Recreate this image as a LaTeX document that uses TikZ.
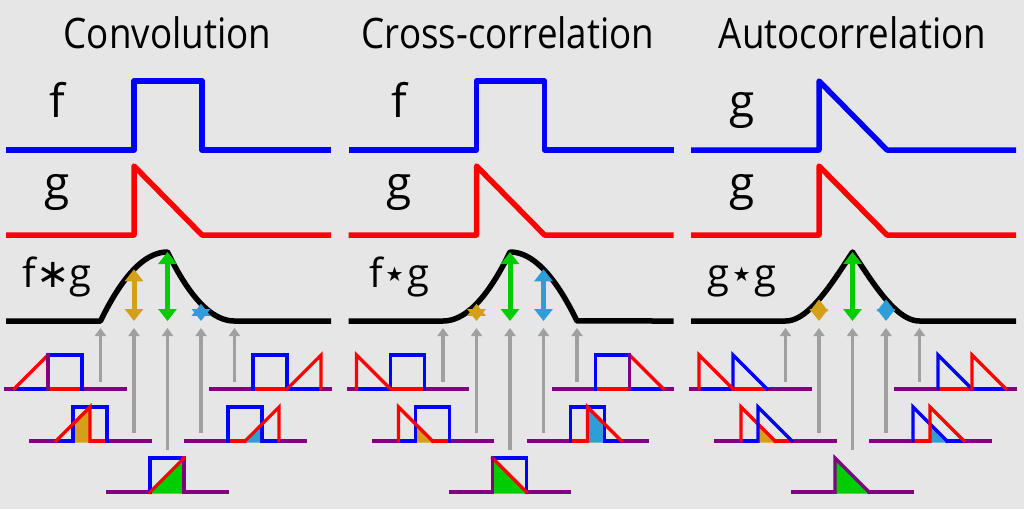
\documentclass[tikz,border=0pt]{standalone}
\usepackage{fontspec}
\setmainfont{Open Sans}
\newfontfamily\titlef[FakeStretch=0.875]{Open Sans}
\newfontfamily\symf{DejaVu Sans}
\usetikzlibrary{arrows.meta}
\definecolor{bg}{HTML}{E6E6E6}
\definecolor{fblue}{HTML}{0000FF}
\definecolor{gred}{HTML}{FF0000}
\definecolor{pur}{HTML}{800080}
\definecolor{orng}{HTML}{D4A017}
\definecolor{grn}{HTML}{00CC00}
\definecolor{cyn}{HTML}{2E9ED8}
\definecolor{gry}{HTML}{A0A0A0}
\tikzset{
 bigline/.style={line width=5.5pt, line join=round, line cap=butt},
 sm/.style={line width=3.2pt, line cap=rect, line join=miter, miter limit=3},
 grayarrow/.style={gry, line width=3.3pt, -{Triangle[width=11pt,length=8pt]}},
 valarrow/.style={line width=5pt, {Triangle[width=18pt,length=12pt]}-{Triangle[width=18pt,length=12pt]}},
 titletext/.style={font=\titlef\fontsize{42}{50}\selectfont, anchor=base, inner sep=0pt},
 lab/.style={font=\fontsize{46}{54}\selectfont, anchor=base, inner sep=0pt},
 lab2/.style={font=\fontsize{40}{48}\selectfont, anchor=base, inner sep=0pt},
}
\newcommand\grays[1]{%
 \foreach \xx/\yb/\k in {100.5/382/a,134/433/b,167.5/450/c,201/433/d,234.5/382/e}{
   \coordinate (#1s\k) at (\xx,\yb); \coordinate (#1e\k) at (\xx,328);
   \draw[grayarrow] (#1s\k) -- (#1e\k);}}
\begin{document}
\begin{tikzpicture}[x=1pt,y=-1pt]
\fill[bg] (0,0) rectangle (1024,509);
\useasboundingbox (0,0) rectangle (1024,509);

%================ Panel 1: Convolution
\begin{scope}
\node[titletext] (t1) at (167.5,48) {Convolution};
\node[lab] (lf1) at (57,117) {f};
\node[lab] (lg1) at (57,199) {g};
\node[lab2] (lfg1) at (57,287) {f{\symf ∗}g};
\draw[bigline,fblue] (6,150)--(134,150)--(134,81)--(202,81)--(202,150)--(331,150);
\draw[bigline,gred] (6,235)--(134,235)--(134,166)--(202,235)--(331,235);
\grays{p}
\draw[bigline,black] (6,321) -- (100.5,321)
  -- plot[domain=0:1,samples=40] ({100.5+67*\x},{321-138*(\x-\x*\x/2)})
  -- plot[domain=1:2,samples=40] ({100.5+67*\x},{321-138*(2-\x)*(2-\x)/2})
  -- (331,321);
\coordinate (po1) at (134,321); \coordinate (pv1) at (134,269.25);
\coordinate (po2) at (167.5,321); \coordinate (pv2) at (167.5,252);
\coordinate (po3) at (201,321); \coordinate (pv3) at (201,303.75);
\draw[valarrow,orng] (po1) -- (pv1);
\draw[valarrow,grn] (po2) -- (pv2);
\draw[valarrow,cyn] (po3) -- (pv3);
% small diagrams
\begin{scope}[shift={(48,389)}]
 \draw[sm,pur] (-42,0)--(-34,0) (34,0)--(77,0);
 \draw[sm,fblue] (-34,0)--(0,0);
 \draw[sm,gred] (0,0)--(34,0);
 \draw[sm,fblue] (0,-34)--(34,-34)--(34,0);
 \draw[sm,gred] (-34,0)--(0,-34);
 \draw[sm,pur] (0,0)--(0,-34);
\end{scope}
\begin{scope}[shift={(73,441)}]
 \draw[sm,pur] (-42,0)--(-17,0) (34,0)--(77,0);
 \draw[sm,fblue] (-17,0)--(0,0);
 \draw[sm,gred] (17,0)--(34,0);
 \fill[orng] (0,1.6)--(0,-17)--(17,-34)--(17,1.6)--cycle;
 \draw[sm,fblue] (0,0)--(0,-34)--(34,-34)--(34,0);
 \draw[sm,gred] (-17,0)--(17,-34)--(17,0);
\end{scope}
\begin{scope}[shift={(150,492)}]
 \draw[sm,pur] (-42,0)--(0,0) (34,0)--(77,0);
 \fill[grn] (0,1.6)--(34,-34)--(34,1.6)--cycle;
 \draw[sm,fblue] (0,0)--(0,-34)--(34,-34);
 \draw[sm,pur] (34,-34)--(34,0);
 \draw[sm,gred] (0,0)--(34,-34);
\end{scope}
\begin{scope}[shift={(228,441)}]
 \draw[sm,pur] (-42,0)--(0,0) (51,0)--(77,0);
 \draw[sm,gred] (0,0)--(17,0);
 \draw[sm,fblue] (34,0)--(51,0);
 \fill[cyn] (17,1.6)--(34,-17)--(34,1.6)--cycle;
 \draw[sm,fblue] (0,0)--(0,-34)--(34,-34)--(34,0);
 \draw[sm,gred] (17,0)--(51,-34)--(51,0);
\end{scope}
\begin{scope}[shift={(253,389)}]
 \draw[sm,pur] (-42,0)--(0,0) (68,0)--(77,0);
 \draw[sm,gred] (0,0)--(34,0);
 \draw[sm,fblue] (34,0)--(68,0);
 \draw[sm,fblue] (0,0)--(0,-34)--(34,-34)--(34,0);
 \draw[sm,gred] (34,0)--(68,-34)--(68,0);
\end{scope}
\end{scope}

%================ Panel 2: Cross-correlation
\begin{scope}[xshift=342.5pt]
\node[titletext] (t2) at (165.5,48) {Cross-correlation};
\node[lab] (lf2) at (57,117) {f};
\node[lab] (lg2) at (57,199) {g};
\node[lab2] (lfg2) at (57,287) {f{\symf ⋆}g};
\draw[bigline,fblue] (6,150)--(134,150)--(134,81)--(202,81)--(202,150)--(331,150);
\draw[bigline,gred] (6,235)--(134,235)--(134,166)--(202,235)--(331,235);
\grays{q}
\draw[bigline,black] (6,321) -- (100.5,321)
  -- plot[domain=0:1,samples=40] ({100.5+67*\x},{321-138*(\x*\x/2)})
  -- plot[domain=1:2,samples=40] ({100.5+67*\x},{321-138*((2-\x)-(2-\x)*(2-\x)/2)})
  -- (331,321);
\coordinate (qo1) at (134,321); \coordinate (qv1) at (134,303.75);
\coordinate (qo2) at (167.5,321); \coordinate (qv2) at (167.5,252);
\coordinate (qo3) at (201,321); \coordinate (qv3) at (201,269.25);
\draw[valarrow,orng] (qo1) -- (qv1);
\draw[valarrow,grn] (qo2) -- (qv2);
\draw[valarrow,cyn] (qo3) -- (qv3);
\begin{scope}[shift={(48,389)}]
 \draw[sm,pur] (-42,0)--(-34,0) (34,0)--(77,0);
 \draw[sm,fblue] (-34,0)--(0,0);
 \draw[sm,gred] (0,0)--(34,0);
 \draw[sm,fblue] (0,0)--(0,-34)--(34,-34)--(34,0);
 \draw[sm,gred] (-34,0)--(-34,-34)--(0,0);
\end{scope}
\begin{scope}[shift={(73,441)}]
 \draw[sm,pur] (-42,0)--(-17,0) (34,0)--(77,0);
 \draw[sm,fblue] (-17,0)--(0,0);
 \draw[sm,gred] (17,0)--(34,0);
 \fill[orng] (0,1.6)--(0,-17)--(17,0)--(17,1.6)--cycle;
 \draw[sm,fblue] (0,0)--(0,-34)--(34,-34)--(34,0);
 \draw[sm,gred] (-17,0)--(-17,-34)--(17,0);
\end{scope}
\begin{scope}[shift={(150,492)}]
 \draw[sm,pur] (-42,0)--(0,0) (34,0)--(77,0);
 \fill[grn] (0,1.6)--(0,-34)--(34,0)--(34,1.6)--cycle;
 \draw[sm,fblue] (0,-34)--(34,-34)--(34,0);
 \draw[sm,gred] (0,-34)--(34,0);
 \draw[sm,pur] (0,0)--(0,-34);
\end{scope}
\begin{scope}[shift={(228,441)}]
 \draw[sm,pur] (-42,0)--(0,0) (51,0)--(77,0);
 \draw[sm,gred] (0,0)--(17,0);
 \draw[sm,fblue] (34,0)--(51,0);
 \fill[cyn] (17,1.6)--(17,-34)--(34,-17)--(34,1.6)--cycle;
 \draw[sm,fblue] (0,0)--(0,-34)--(34,-34)--(34,0);
 \draw[sm,gred] (17,0)--(17,-34)--(51,0);
\end{scope}
\begin{scope}[shift={(253,389)}]
 \draw[sm,pur] (-42,0)--(0,0) (68,0)--(77,0);
 \draw[sm,gred] (0,0)--(34,0);
 \draw[sm,fblue] (34,0)--(68,0);
 \draw[sm,fblue] (0,0)--(0,-34)--(34,-34);
 \draw[sm,gred] (34,-34)--(68,0);
 \draw[sm,pur] (34,0)--(34,-34);
\end{scope}
\end{scope}

%================ Panel 3: Autocorrelation
\begin{scope}[xshift=685pt]
\node[titletext] (t3) at (167.5,48) {Autocorrelation};
\node[lab] (lg3a) at (57,117) {g};
\node[lab] (lg3) at (57,199) {g};
\node[lab2] (lgg3) at (57,287) {g{\symf ⋆}g};
\draw[bigline,fblue] (6,150)--(134,150)--(134,81)--(202,150)--(331,150);
\draw[bigline,gred] (6,235)--(134,235)--(134,166)--(202,235)--(331,235);
\grays{r}
\draw[bigline,black] (6,321) -- (100.5,321)
  -- plot[domain=-1:0,samples=40] ({167.5+67*\x},{321-207*((1+\x)*(1+\x)*(1+\x)/3-\x*(1+\x)*(1+\x)/2)})
  -- plot[domain=0:1,samples=40] ({167.5+67*\x},{321-207*((1-\x)*(1-\x)*(1-\x)/3+\x*(1-\x)*(1-\x)/2)})
  -- (331,321);
\coordinate (ro1) at (134,321); \coordinate (rv1) at (134,299.4);
\coordinate (ro2) at (167.5,321); \coordinate (rv2) at (167.5,252);
\coordinate (ro3) at (201,321); \coordinate (rv3) at (201,299.4);
\draw[valarrow,orng] (ro1) -- (rv1);
\draw[valarrow,grn] (ro2) -- (rv2);
\draw[valarrow,cyn] (ro3) -- (rv3);
\begin{scope}[shift={(48,389)}]
 \draw[sm,pur] (-42,0)--(-34,0) (34,0)--(77,0);
 \draw[sm,fblue] (-34,0)--(0,0);
 \draw[sm,gred] (0,0)--(34,0);
 \draw[sm,fblue] (0,0)--(0,-34)--(34,0);
 \draw[sm,gred] (-34,0)--(-34,-34)--(0,0);
\end{scope}
\begin{scope}[shift={(73,441)}]
 \draw[sm,pur] (-42,0)--(-17,0) (34,0)--(77,0);
 \draw[sm,fblue] (-17,0)--(0,0);
 \draw[sm,gred] (17,0)--(34,0);
 \fill[orng] (0,1.6)--(0,-17)--(17,0)--(17,1.6)--cycle;
 \draw[sm,gred] (-17,0)--(-17,-34)--(17,0);
 \draw[sm,fblue] (0,0)--(0,-34)--(34,0);
\end{scope}
\begin{scope}[shift={(150,492)}]
 \draw[sm,pur] (-42,0)--(0,0) (34,0)--(77,0);
 \fill[grn] (0,1.6)--(0,-34)--(34,0)--(34,1.6)--cycle;
 \draw[sm,pur] (0,0)--(0,-34)--(34,0);
\end{scope}
\begin{scope}[shift={(228,441)}]
 \draw[sm,pur] (-42,0)--(0,0) (51,0)--(77,0);
 \draw[sm,gred] (0,0)--(17,0);
 \draw[sm,fblue] (34,0)--(51,0);
 \fill[cyn] (17,1.6)--(17,-17)--(34,0)--(34,1.6)--cycle;
 \draw[sm,fblue] (0,0)--(0,-34)--(34,0);
 \draw[sm,gred] (17,0)--(17,-34)--(51,0);
\end{scope}
\begin{scope}[shift={(253,389)}]
 \draw[sm,pur] (-42,0)--(0,0) (68,0)--(77,0);
 \draw[sm,gred] (0,0)--(34,0);
 \draw[sm,fblue] (34,0)--(68,0);
 \draw[sm,fblue] (0,0)--(0,-34)--(34,0);
 \draw[sm,gred] (34,0)--(34,-34)--(68,0);
\end{scope}
\end{scope}
\end{tikzpicture}
\end{document}
